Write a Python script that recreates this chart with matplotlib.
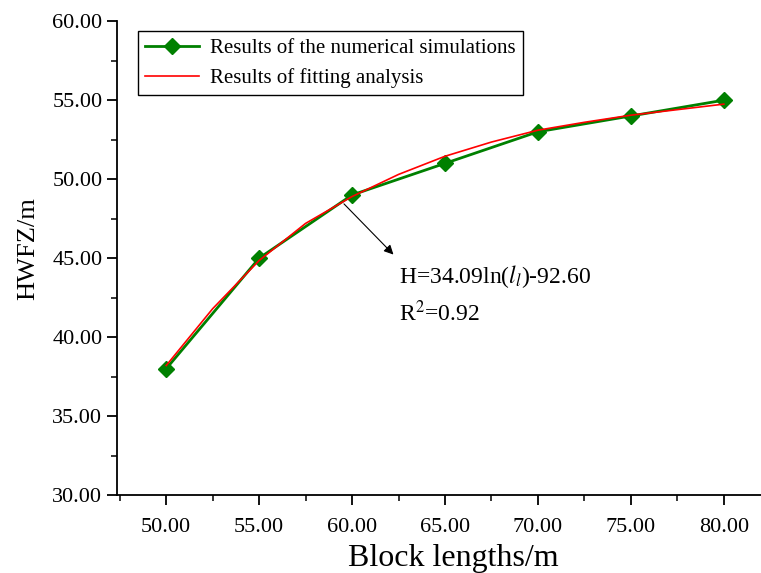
import matplotlib.pyplot as plt
from matplotlib.ticker import MultipleLocator, FormatStrFormatter

plt.rcParams['font.family'] = ['Liberation Serif', 'DejaVu Serif']
plt.rcParams['mathtext.fontset'] = 'stix'

# data
block_len = [50, 55, 60, 65, 70, 75, 80]
hwfz = [38.0, 45.0, 49.0, 51.0, 53.0, 54.0, 55.0]

# fitted curve
fit_x = [50, 52.5, 55, 57.5, 60, 62.5, 65, 67.5, 70, 72.5, 75, 77.5, 80]
fit_y = [38.2, 41.8, 44.85, 47.2, 48.9, 50.3, 51.45, 52.35, 53.1, 53.6, 54.05, 54.4, 54.75]

fig = plt.figure(figsize=(7.61, 5.73), dpi=100)
ax = fig.add_axes([0.1537, 0.136, 0.8463, 0.827])

ax.plot(block_len, hwfz, color='#008000', lw=2, marker='D', ms=8,
        label='Results of the numerical simulations')
ax.plot(fit_x, fit_y, color='red', lw=1.2, label='Results of fitting analysis')

ax.set_xlim(47.35, 82.0)
ax.set_ylim(30, 60)
ax.xaxis.set_major_locator(MultipleLocator(5))
ax.xaxis.set_minor_locator(MultipleLocator(2.5))
ax.yaxis.set_major_locator(MultipleLocator(5))
ax.yaxis.set_minor_locator(MultipleLocator(2.5))
ax.xaxis.set_major_formatter(FormatStrFormatter('%.2f'))
ax.yaxis.set_major_formatter(FormatStrFormatter('%.2f'))

ax.spines['top'].set_visible(False)
ax.spines['right'].set_visible(False)
ax.spines['left'].set_linewidth(1.3)
ax.spines['bottom'].set_linewidth(1.3)
ax.tick_params(which='major', direction='out', length=7.5, width=1.3, labelsize=16, pad=3)
ax.tick_params(axis='x', which='major', pad=9)
ax.tick_params(which='minor', direction='out', length=4, width=1.1)

ax.set_xlabel('Block lengths/m', fontsize=23)
ax.set_ylabel('HWFZ/m', fontsize=19)
ax.xaxis.set_label_coords(0.523, -0.103)
ax.yaxis.set_label_coords(-0.12, 0.52)

leg = ax.legend(loc='upper left', bbox_to_anchor=(138 / 761, 1 - 31 / 573),
                bbox_transform=fig.transFigure, borderaxespad=0, fontsize=15,
                frameon=True, fancybox=False, framealpha=1, borderpad=0.35,
                handlelength=2.6, handletextpad=0.5, labelspacing=0.5)
leg.get_frame().set_edgecolor('black')
leg.get_frame().set_linewidth(1.0)

ax.annotate('', xy=(62.33, 45.1), xytext=(59.46, 48.56),
            arrowprops=dict(arrowstyle='-|>', color='black', lw=0.8, mutation_scale=14))
ax.text(62.5, 43.85, r'H=34.09ln($\mathit{l}_{\mathit{l}}$)-92.60', fontsize=17, va='center')
ax.text(62.5, 41.5, r'R$^2$=0.92', fontsize=17, va='center')

fig.savefig('out.png', dpi=100)
